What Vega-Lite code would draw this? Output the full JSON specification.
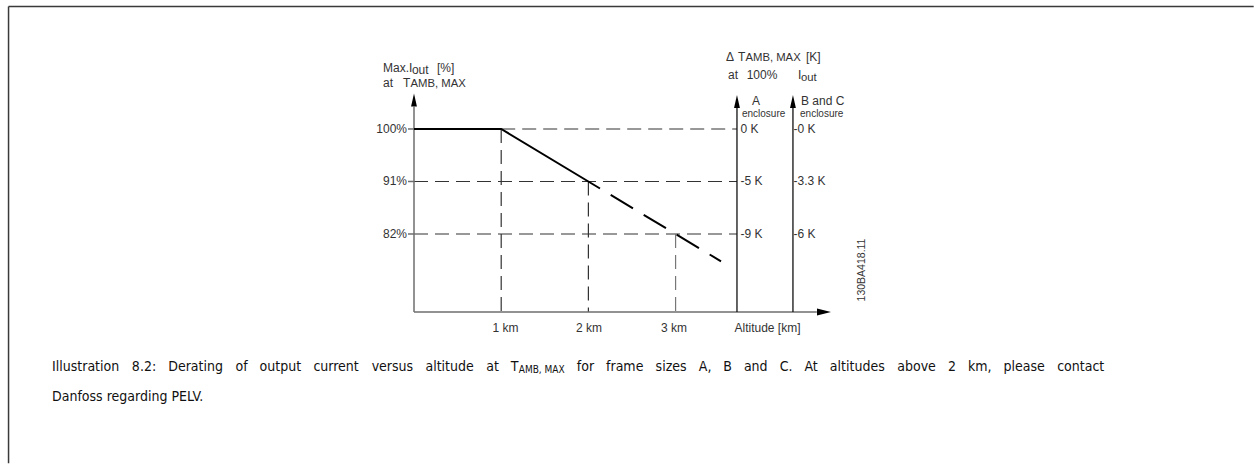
{
  "$schema": "https://vega.github.io/schema/vega-lite/v6.json",
  "width": 1255,
  "height": 464,
  "autosize": {"type": "fit", "contains": "padding"},
  "padding": 0,
  "background": "white",
  "config": {"view": {"stroke": null}},
  "datasets": {
    "border": [
      {"x": -4.65, "y": 121.0, "x2": 9.63, "y2": 121.0},
      {"x": -4.65, "y": 121.0, "x2": -4.65, "y2": 42.7}
    ],
    "grid": [
      {"x": 1, "y": 100, "x2": 3.704, "y2": 100},
      {"x": 0, "y": 91, "x2": 3.704, "y2": 91},
      {"x": 0, "y": 82, "x2": 3.704, "y2": 82},
      {"x": 1, "y": 100, "x2": 1, "y2": 68.63},
      {"x": 2, "y": 91, "x2": 2, "y2": 68.63}
    ],
    "grid3": [
      {"x": 3, "y": 82, "x2": 3, "y2": 68.63}
    ],
    "grayaxes": [
      {"x": 0, "y": 68.63, "x2": 0, "y2": 103.8},
      {"x": 0, "y": 68.63, "x2": 4.62, "y2": 68.63},
      {"x": -0.069, "y": 100, "x2": 0, "y2": 100},
      {"x": -0.069, "y": 91, "x2": 0, "y2": 91},
      {"x": -0.069, "y": 82, "x2": 0, "y2": 82}
    ],
    "blackaxes": [
      {"x": 3.704, "y": 68.63, "x2": 3.704, "y2": 103.6},
      {"x": 4.346, "y": 68.63, "x2": 4.346, "y2": 103.6}
    ],
    "curve_solid": [
      {"x": 0, "y": 100},
      {"x": 1, "y": 100},
      {"x": 2.133, "y": 89.8}
    ],
    "curve_dash": [
      {"x": 2.133, "y": 89.8},
      {"x": 3.521, "y": 77.31}
    ],
    "arrows_up": [
      {"x": 0, "y": 104.97},
      {"x": 3.704, "y": 104.71},
      {"x": 4.346, "y": 104.71}
    ],
    "arrow_right": [
      {"x": 4.702, "y": 68.63}
    ],
    "ylabels": [
      {"x": -0.08, "y": 100, "text": "100%"},
      {"x": -0.08, "y": 91, "text": "91%"},
      {"x": -0.08, "y": 82, "text": "82%"}
    ],
    "xlabels": [
      {"x": 1.049, "y": 65.27, "text": "1 km"},
      {"x": 2.007, "y": 65.27, "text": "2 km"},
      {"x": 2.982, "y": 65.27, "text": "3 km"},
      {"x": 4.054, "y": 65.27, "text": "Altitude [km]"}
    ],
    "klabels": [
      {"x": 3.744, "y": 100, "text": "0 K"},
      {"x": 3.744, "y": 91, "text": "-5 K"},
      {"x": 3.744, "y": 82, "text": "-9 K"},
      {"x": 4.352, "y": 100, "text": "-0 K"},
      {"x": 4.352, "y": 91, "text": "-3.3 K"},
      {"x": 4.352, "y": 82, "text": "-6 K"}
    ],
    "head12": [
      {"x": -0.3555, "y": 109.77, "text": "Max.I"},
      {"x": -0.024, "y": 109.43, "text": "out"},
      {"x": 0.264, "y": 109.77, "text": "[%]"},
      {"x": -0.3555, "y": 107.25, "text": "at"},
      {"x": -0.126, "y": 107.25, "text": "T"},
      {"x": 3.578, "y": 111.66, "text": "Δ"},
      {"x": 3.716, "y": 111.66, "text": "T"},
      {"x": 4.495, "y": 111.66, "text": "[K]"},
      {"x": 3.601, "y": 108.57, "text": "at"},
      {"x": 3.815, "y": 108.57, "text": "100%"},
      {"x": 4.404, "y": 108.57, "text": "I"},
      {"x": 3.876, "y": 104.11, "text": "A"},
      {"x": 4.438, "y": 104.11, "text": "B and C"}
    ],
    "head10": [
      {"x": -0.040, "y": 107.25, "text": "AMB, MAX"},
      {"x": 3.801, "y": 111.66, "text": "AMB, MAX"},
      {"x": 4.438, "y": 108.23, "text": "out"}
    ],
    "encl": [
      {"x": 3.761, "y": 102.06, "text": "enclosure"},
      {"x": 4.427, "y": 102.06, "text": "enclosure"}
    ],
    "figid": [
      {"x": 5.138, "y": 75.83, "text": "130BA418.11"}
    ],
    "caption": [
      {"x": -4.1514, "y": 59.2, "text": "Illustration"},
      {"x": -3.2356, "y": 59.2, "text": "8.2:"},
      {"x": -2.8186, "y": 59.2, "text": "Derating"},
      {"x": -2.0472, "y": 59.2, "text": "of"},
      {"x": -1.7713, "y": 59.2, "text": "output"},
      {"x": -1.1537, "y": 59.2, "text": "current"},
      {"x": -0.4856, "y": 59.2, "text": "versus"},
      {"x": 0.1310, "y": 59.2, "text": "altitude"},
      {"x": 0.8278, "y": 59.2, "text": "at"},
      {"x": 1.1094, "y": 59.2, "text": "T"},
      {"x": 1.8670, "y": 59.2, "text": "for"},
      {"x": 2.2025, "y": 59.2, "text": "frame"},
      {"x": 2.7709, "y": 59.2, "text": "sizes"},
      {"x": 3.2658, "y": 59.2, "text": "A,"},
      {"x": 3.5475, "y": 59.2, "text": "B"},
      {"x": 3.7833, "y": 59.2, "text": "and"},
      {"x": 4.1933, "y": 59.2, "text": "C."},
      {"x": 4.4773, "y": 59.2, "text": "At"},
      {"x": 4.7693, "y": 59.2, "text": "altitudes"},
      {"x": 5.5417, "y": 59.2, "text": "above"},
      {"x": 6.1250, "y": 59.2, "text": "2"},
      {"x": 6.3528, "y": 59.2, "text": "km,"},
      {"x": 6.7617, "y": 59.2, "text": "please"},
      {"x": 7.3759, "y": 59.2, "text": "contact"},
      {"x": -4.1514, "y": 54.05, "text": "Danfoss regarding PELV."}
    ],
    "cap_sub": [
      {"x": 1.2011, "y": 58.7, "text": "AMB, MAX"}
    ]
  },
  "encoding": {
    "x": {"field": "x", "type": "quantitative", "scale": {"domain": [-4.748, 9.645], "nice": false, "zero": false}, "axis": null},
    "y": {"field": "y", "type": "quantitative", "scale": {"domain": [42.57, 122.11], "nice": false, "zero": false}, "axis": null}
  },
  "layer": [
    {
      "data": {"name": "border"},
      "mark": {"type": "rule", "color": "#3a3a3a", "strokeWidth": 1.5},
      "encoding": {"x2": {"field": "x2"}, "y2": {"field": "y2"}}
    },
    {
      "data": {"name": "grid"},
      "mark": {"type": "rule", "color": "#333333", "strokeWidth": 1.2, "strokeDash": [14, 7]},
      "encoding": {"x2": {"field": "x2"}, "y2": {"field": "y2"}}
    },
    {
      "data": {"name": "grid3"},
      "mark": {"type": "rule", "color": "#777777", "strokeWidth": 1.2, "strokeDash": [14, 7]},
      "encoding": {"x2": {"field": "x2"}, "y2": {"field": "y2"}}
    },
    {
      "data": {"name": "grayaxes"},
      "mark": {"type": "rule", "color": "#6e6e6e", "strokeWidth": 1.5},
      "encoding": {"x2": {"field": "x2"}, "y2": {"field": "y2"}}
    },
    {
      "data": {"name": "blackaxes"},
      "mark": {"type": "rule", "color": "#111111", "strokeWidth": 1.3},
      "encoding": {"x2": {"field": "x2"}, "y2": {"field": "y2"}}
    },
    {
      "data": {"name": "curve_solid"},
      "mark": {"type": "line", "color": "#000000", "strokeWidth": 2},
      "encoding": {}
    },
    {
      "data": {"name": "curve_dash"},
      "mark": {"type": "line", "color": "#000000", "strokeWidth": 2, "strokeDash": [26, 12.5], "strokeDashOffset": 26},
      "encoding": {}
    },
    {
      "data": {"name": "arrows_up"},
      "mark": {"type": "point", "shape": "M0,-1L0.45,1L-0.45,1Z", "filled": true, "color": "#000000", "opacity": 1, "size": 169},
      "encoding": {}
    },
    {
      "data": {"name": "arrow_right"},
      "mark": {"type": "point", "shape": "M1,0L-1,-0.5L-1,0.5Z", "filled": true, "color": "#000000", "opacity": 1, "size": 196},
      "encoding": {}
    },
    {
      "data": {"name": "ylabels"},
      "mark": {"type": "text", "font": "Liberation Sans", "fontSize": 12, "color": "#333333", "align": "right", "baseline": "middle"},
      "encoding": {"text": {"field": "text"}}
    },
    {
      "data": {"name": "xlabels"},
      "mark": {"type": "text", "font": "Liberation Sans", "fontSize": 12, "color": "#333333", "align": "center", "baseline": "alphabetic"},
      "encoding": {"text": {"field": "text"}}
    },
    {
      "data": {"name": "klabels"},
      "mark": {"type": "text", "font": "Liberation Sans", "fontSize": 12, "color": "#333333", "align": "left", "baseline": "middle"},
      "encoding": {"text": {"field": "text"}}
    },
    {
      "data": {"name": "head12"},
      "mark": {"type": "text", "font": "Liberation Sans", "fontSize": 12, "color": "#333333", "align": "left", "baseline": "alphabetic"},
      "encoding": {"text": {"field": "text"}}
    },
    {
      "data": {"name": "head10"},
      "mark": {"type": "text", "font": "Liberation Sans", "fontSize": 11.3, "color": "#333333", "align": "left", "baseline": "alphabetic"},
      "encoding": {"text": {"field": "text"}}
    },
    {
      "data": {"name": "encl"},
      "mark": {"type": "text", "font": "Liberation Sans", "fontSize": 10, "color": "#333333", "align": "left", "baseline": "alphabetic"},
      "encoding": {"text": {"field": "text"}}
    },
    {
      "data": {"name": "figid"},
      "mark": {"type": "text", "font": "Liberation Sans", "fontSize": 10.5, "color": "#333333", "align": "center", "baseline": "middle", "angle": 270},
      "encoding": {"text": {"field": "text"}}
    },
    {
      "data": {"name": "caption"},
      "mark": {"type": "text", "font": "DejaVu Sans Condensed", "fontSize": 14, "color": "#111111", "align": "left", "baseline": "middle"},
      "encoding": {"text": {"field": "text"}}
    },
    {
      "data": {"name": "cap_sub"},
      "mark": {"type": "text", "font": "DejaVu Sans Condensed", "fontSize": 10, "color": "#111111", "align": "left", "baseline": "middle"},
      "encoding": {"text": {"field": "text"}}
    }
  ]
}
